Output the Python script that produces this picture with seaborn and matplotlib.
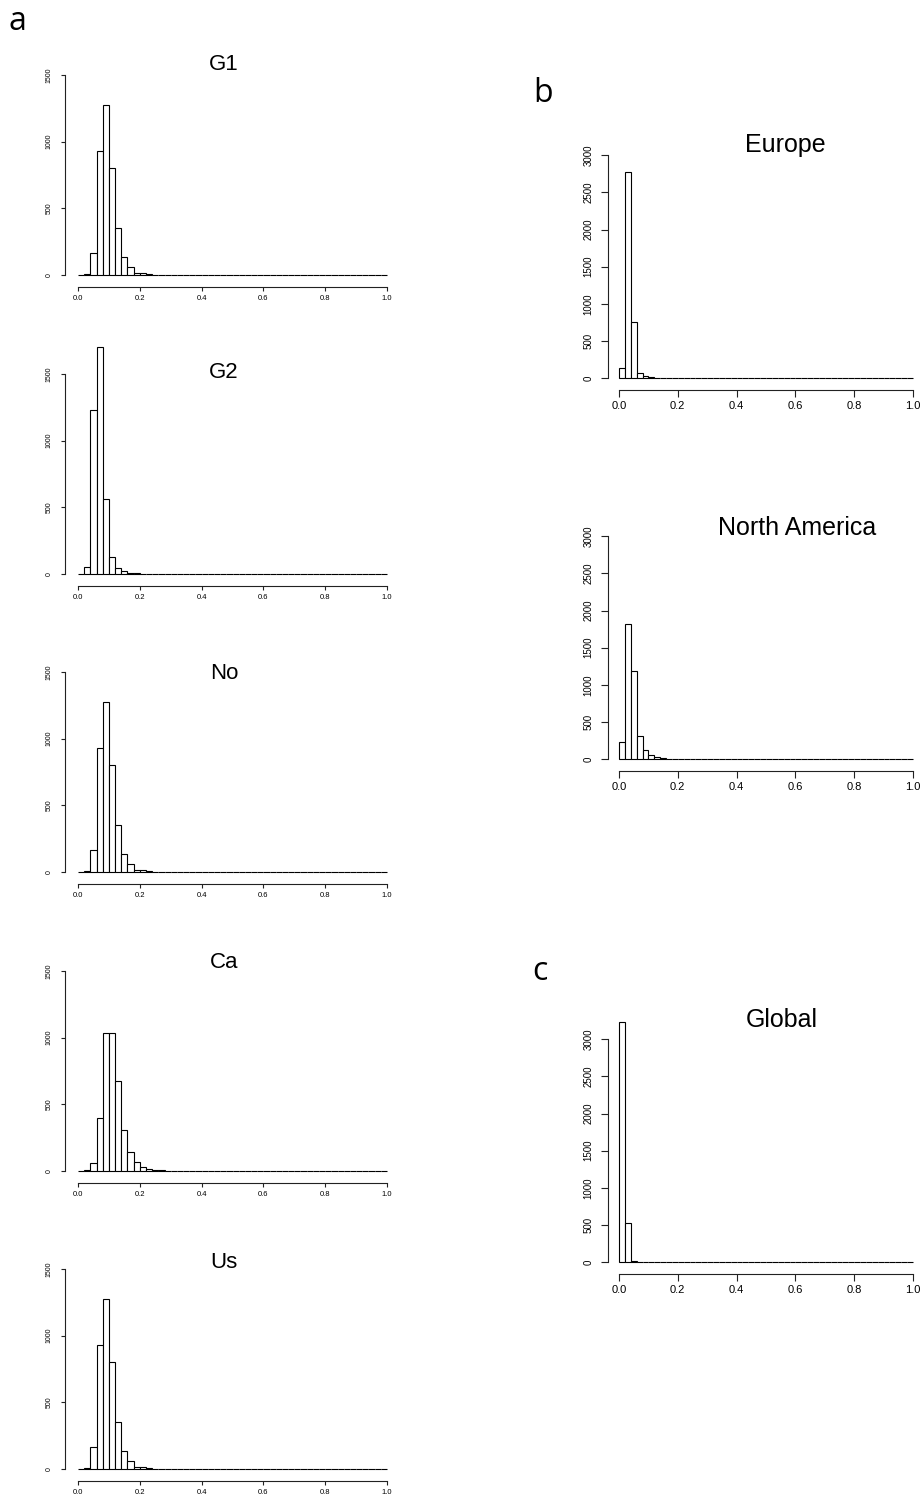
import numpy as np
import pandas as pd
import matplotlib
matplotlib.use("Agg")
import matplotlib.pyplot as plt
import seaborn as sns

# histogram counts, 50 bins of width 0.02 on [0, 1]
g1_counts = [0, 8, 167, 930, 1272, 800, 350, 132, 57, 17, 15, 7, 1, 3, 2,
             0, 0, 0, 1, 1, 1, 0, 0, 0, 0, 0, 0, 0, 0, 0,
             0, 0, 0, 0, 0, 0, 0, 0, 0, 0, 0, 0, 0, 0, 0,
             0, 0, 0, 0, 0]
g2_counts = [0, 55, 1230, 1700, 565, 130, 47, 22, 8, 5, 3, 1, 1, 2, 1,
             0, 0, 0, 2, 0, 0, 0, 0, 0, 1, 2, 1, 0, 1, 1,
             0, 0, 0, 0, 0, 0, 0, 0, 0, 0, 0, 0, 0, 0, 0,
             0, 0, 0, 0, 0]
no_counts = [0, 8, 167, 930, 1272, 800, 350, 132, 57, 17, 15, 7, 1, 3, 2,
             0, 0, 0, 1, 1, 1, 0, 0, 0, 0, 0, 0, 0, 0, 0,
             0, 0, 0, 0, 0, 0, 0, 0, 0, 0, 0, 0, 0, 0, 0,
             0, 0, 0, 0, 0]
ca_counts = [0, 8, 63, 400, 1037, 1037, 675, 305, 145, 65, 32, 17, 10, 5, 3,
             2, 0, 1, 2, 1, 0, 0, 0, 0, 0, 0, 0, 0, 0, 0,
             0, 0, 0, 0, 0, 0, 0, 0, 0, 0, 0, 0, 0, 0, 0,
             0, 0, 0, 0, 0]
us_counts = [0, 8, 167, 930, 1272, 800, 350, 132, 57, 17, 15, 7, 1, 3, 2,
             0, 0, 0, 1, 1, 1, 0, 0, 0, 0, 0, 0, 0, 0, 0,
             0, 0, 0, 0, 0, 0, 0, 0, 0, 0, 0, 0, 0, 0, 0,
             0, 0, 0, 0, 0]
europe_counts = [134, 2780, 761, 67, 22, 9, 3, 3, 1, 0, 0, 0, 0, 0, 0,
                 0, 0, 0, 0, 0, 0, 0, 0, 0, 0, 0, 0, 0, 0, 0,
                 0, 0, 0, 0, 0, 0, 0, 0, 0, 0, 0, 0, 0, 0, 0,
                 0, 0, 0, 0, 0]
namerica_counts = [233, 1814, 1182, 313, 125, 50, 22, 9, 5, 4, 3, 2, 2, 0, 2,
                   0, 0, 0, 0, 0, 0, 0, 0, 0, 0, 0, 0, 0, 0, 0,
                   0, 0, 0, 0, 0, 0, 0, 0, 0, 0, 0, 0, 0, 0, 0,
                   0, 0, 0, 0, 0]
global_counts = [3230, 520, 8, 4, 3, 0, 0, 0, 0, 0, 0, 0, 0, 0, 0,
                 0, 0, 0, 0, 0, 0, 0, 0, 0, 0, 0, 0, 0, 0, 0,
                 0, 0, 0, 0, 0, 0, 0, 0, 0, 0, 0, 0, 0, 0, 0,
                 0, 0, 0, 0, 0]

left_titles = ["G1", "G2", "No", "Ca", "Us"]
right_titles = ["Europe", "North America", "Global"]
left_yticks = [0, 500, 1000, 1500]
right_yticks = [0, 500, 1000, 1500, 2000, 2500, 3000]
xticks = [0.0, 0.2, 0.4, 0.6, 0.8, 1.0]
xtick_labels = ["0.0", "0.2", "0.4", "0.6", "0.8", "1.0"]

bins = np.linspace(0, 1, 51)
centers = (bins[:-1] + bins[1:]) / 2

sns.set_style("ticks")
plt.rcParams['font.family'] = ['Liberation Sans', 'DejaVu Sans']
plt.rcParams['text.color'] = 'black'
plt.rcParams['xtick.color'] = 'black'
plt.rcParams['ytick.color'] = 'black'
plt.rcParams['xtick.labelcolor'] = 'black'
plt.rcParams['ytick.labelcolor'] = 'black'

W, H = 921, 1500
fig = plt.figure(figsize=(W / 100, H / 100), dpi=100)


def make_axes(x0, x1, y0, pxh):
    # pixel box -> figure fraction
    return fig.add_axes([x0 / W, 1 - y0 / H, (x1 - x0) / W, pxh / H])


def draw_hist(ax, counts, ytop, yticks, xfs, yfs, ticklen, ypad, xpad, yout, xout):
    df = pd.DataFrame({"x": centers, "n": counts})
    sns.histplot(data=df, x="x", weights="n", bins=list(bins), ax=ax,
                 color="white", edgecolor="black", linewidth=0.8, alpha=1)
    # R draws empty bins too -> keep the flat ones visible on the baseline
    for p in ax.patches:
        p.set_clip_on(False)
    ax.set_xlim(0, 1)
    ax.set_ylim(0, ytop)
    ax.set_xlabel("")
    ax.set_ylabel("")
    ax.patch.set_alpha(0)
    for s in ["top", "right"]:
        ax.spines[s].set_visible(False)
    ax.spines["left"].set_bounds(0, yticks[-1])
    ax.spines["bottom"].set_bounds(0, 1)
    ax.spines["left"].set_position(("outward", yout))
    ax.spines["bottom"].set_position(("outward", xout))
    for s in ["left", "bottom"]:
        ax.spines[s].set_color("#222222")
        ax.spines[s].set_linewidth(0.8)
    ax.set_xticks(xticks)
    ax.set_xticklabels(xtick_labels, fontsize=xfs)
    ax.set_yticks(yticks)
    ax.set_yticklabels([str(v) for v in yticks], fontsize=yfs,
                       rotation=90, va="center")
    ax.tick_params(axis="both", length=ticklen, width=0.8, color="#222222")
    ax.tick_params(axis="y", pad=ypad)
    ax.tick_params(axis="x", pad=xpad)


# left column (a)
left_base = [275, 574, 872, 1171, 1469]
left_title_y = [1575, 1515, 1492, 1560, 1545]
left_data = [g1_counts, g2_counts, no_counts, ca_counts, us_counts]
for i, counts in enumerate(left_data):
    ax = make_axes(78, 387, left_base[i], 240)
    draw_hist(ax, counts, 1800, left_yticks, 5.5, 5, 2.9, 6.0, 3.0, 9.4, 8.6)
    ax.text(0.472, left_title_y[i], left_titles[i], fontsize=16,
            ha="center", va="center")

# right column (b, c)
right_base = [378, 759, 1262]
right_title_pos = [(0.565, 3134), (0.605, 3108), (0.554, 3256)]
right_data = [europe_counts, namerica_counts, global_counts]
for i, counts in enumerate(right_data):
    ax = make_axes(619, 913, right_base[i], 245)
    draw_hist(ax, counts, 3300, right_yticks, 8, 7, 5, 5.5, 3.0, 8.0, 8.6)
    tx, ty = right_title_pos[i]
    ax.text(tx, ty, right_titles[i], fontsize=18, ha="center", va="center")

# panel letters
letter_font = ['Open Sans', 'DejaVu Sans']
fig.text(17 / W, 1 - 22 / H, "a", fontsize=23, family=letter_font, ha="center", va="center")
fig.text(543 / W, 1 - 93 / H, "b", fontsize=23, family=letter_font, ha="center", va="center")
fig.text(540 / W, 1 - 972 / H, "c", fontsize=23, family=letter_font, ha="center", va="center")

fig.savefig("out.png", dpi=100, facecolor="white")
